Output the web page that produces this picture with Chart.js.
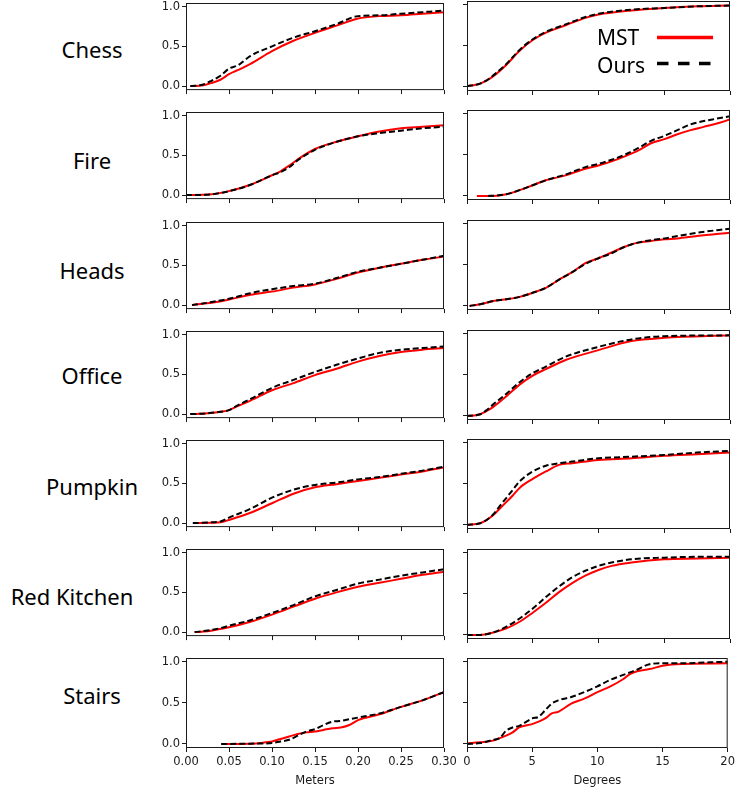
<!DOCTYPE html>
<html>
<head>
<meta charset="utf-8">
<script src="https://cdn.jsdelivr.net/npm/chart.js@4.4.0/dist/chart.umd.min.js"></script>
<style>
  body { margin: 0; width: 738px; height: 788px; background: #fff; position: relative; overflow: hidden; }
  canvas { position: absolute; }
  .rowname { position: absolute; font-family: "Noto Sans", sans-serif; font-size: 22px; color: #000;
             white-space: nowrap; line-height: normal; transform: translate(-50%, -50%); }
</style>
</head>
<body>
<script>
const rowNames = ['Chess', 'Fire', 'Heads', 'Office', 'Pumpkin', 'Red Kitchen', 'Stairs'];
const seriesNames = ['MST', 'Ours'];
const axisTitles = ['Meters', 'Degrees'];
const meterTicks = [0, 0.05, 0.1, 0.15, 0.2, 0.25, 0.3];
const degreeTicks = [0, 5, 10, 15, 20];
const fractionTicks = [0, 0.5, 1];

// translation error (meters), one list per scene
const meterX = [
  [0.005, 0.02, 0.03, 0.04, 0.05, 0.06, 0.075, 0.1, 0.125, 0.15, 0.175, 0.2, 0.225, 0.25, 0.275, 0.3],
  [0, 0.03, 0.05, 0.075, 0.1, 0.11, 0.12, 0.13, 0.15, 0.175, 0.2, 0.225, 0.25, 0.275, 0.3],
  [0.007, 0.02, 0.03, 0.05, 0.075, 0.1, 0.125, 0.15, 0.175, 0.2, 0.225, 0.25, 0.275, 0.3],
  [0.005, 0.025, 0.04, 0.05, 0.06, 0.075, 0.1, 0.125, 0.15, 0.175, 0.2, 0.225, 0.25, 0.275, 0.3],
  [0.008, 0.03, 0.04, 0.05, 0.075, 0.1, 0.125, 0.15, 0.175, 0.2, 0.225, 0.25, 0.275, 0.3],
  [0.01, 0.025, 0.04, 0.05, 0.075, 0.1, 0.125, 0.15, 0.175, 0.2, 0.225, 0.25, 0.275, 0.3],
  [0.041, 0.05, 0.075, 0.09, 0.1, 0.11, 0.12, 0.13, 0.14, 0.15, 0.16, 0.17, 0.18, 0.19, 0.2, 0.225, 0.25, 0.275, 0.3]
];
const meterMST = [
  [0, 0.01, 0.04, 0.08, 0.15, 0.20, 0.28, 0.44, 0.57, 0.67, 0.76, 0.85, 0.88, 0.89, 0.91, 0.93],
  [0, 0.01, 0.05, 0.13, 0.25, 0.30, 0.37, 0.45, 0.58, 0.67, 0.74, 0.80, 0.84, 0.86, 0.88],
  [0, 0.02, 0.03, 0.07, 0.13, 0.17, 0.22, 0.26, 0.33, 0.41, 0.47, 0.52, 0.57, 0.61],
  [0, 0.01, 0.03, 0.05, 0.10, 0.17, 0.30, 0.39, 0.49, 0.57, 0.66, 0.73, 0.78, 0.81, 0.83],
  [0, 0.005, 0.01, 0.04, 0.13, 0.25, 0.37, 0.45, 0.49, 0.53, 0.57, 0.61, 0.65, 0.70],
  [0, 0.01, 0.04, 0.06, 0.13, 0.22, 0.32, 0.42, 0.50, 0.57, 0.62, 0.67, 0.72, 0.76],
  [0, 0, 0.003, 0.015, 0.03, 0.06, 0.09, 0.12, 0.14, 0.15, 0.17, 0.19, 0.20, 0.23, 0.29, 0.36, 0.45, 0.53, 0.63]
];
const meterOurs = [
  [0, 0.02, 0.07, 0.13, 0.22, 0.26, 0.38, 0.50, 0.61, 0.69, 0.78, 0.88, 0.89, 0.91, 0.93, 0.95],
  [0, 0.01, 0.05, 0.13, 0.25, 0.29, 0.35, 0.44, 0.57, 0.67, 0.74, 0.78, 0.81, 0.84, 0.86],
  [0, 0.02, 0.04, 0.08, 0.15, 0.20, 0.24, 0.27, 0.34, 0.42, 0.47, 0.52, 0.57, 0.62],
  [0, 0.01, 0.03, 0.05, 0.11, 0.19, 0.33, 0.43, 0.53, 0.62, 0.70, 0.77, 0.81, 0.83, 0.85],
  [0, 0.01, 0.02, 0.07, 0.18, 0.32, 0.42, 0.48, 0.51, 0.55, 0.58, 0.62, 0.66, 0.71],
  [0, 0.02, 0.05, 0.08, 0.15, 0.24, 0.34, 0.45, 0.53, 0.61, 0.66, 0.71, 0.75, 0.79],
  [0, 0, 0.003, 0.005, 0.01, 0.03, 0.05, 0.10, 0.15, 0.18, 0.23, 0.27, 0.28, 0.30, 0.32, 0.37, 0.45, 0.53, 0.63]
];

// rotation error (degrees), one list per scene
const degreeX = [
  [0, 0.5, 1, 1.5, 2, 3, 4, 5, 6, 7.5, 9, 10, 12.5, 15, 17.5, 20],
  [0.75, 1.6, 2, 3, 4, 5, 6, 7.5, 9, 10, 11, 12, 13, 14, 15, 16, 17, 18, 19, 20],
  [0.2, 1, 2, 3, 4, 5, 6, 7, 8, 9, 10, 11, 12, 13, 14, 15, 16, 17.5, 20],
  [0, 0.5, 1, 1.5, 2, 3, 4, 5, 6, 7.5, 10, 12.5, 15, 20],
  [0, 1, 1.5, 2, 2.5, 3, 3.5, 4, 5, 6, 7, 8, 10, 12.5, 15, 17.5, 20],
  [0, 1, 2, 3, 4, 5, 6, 7, 8, 9, 10, 11, 12.5, 15, 17.5, 20],
  [0, 1, 2, 2.5, 3, 3.5, 4, 5, 5.5, 6, 6.5, 7, 8, 9, 10, 11, 12, 12.5, 13, 14, 15, 16, 20]
];
const degreeMST = [
  [0.01, 0.02, 0.04, 0.08, 0.13, 0.27, 0.44, 0.57, 0.66, 0.75, 0.84, 0.88, 0.93, 0.96, 0.98, 0.99],
  [0, 0, 0, 0.02, 0.07, 0.13, 0.19, 0.25, 0.33, 0.37, 0.42, 0.48, 0.55, 0.64, 0.69, 0.75, 0.80, 0.84, 0.88, 0.93],
  [0, 0.02, 0.06, 0.08, 0.11, 0.16, 0.22, 0.32, 0.41, 0.52, 0.58, 0.65, 0.72, 0.77, 0.79, 0.81, 0.82, 0.85, 0.89],
  [0, 0.005, 0.02, 0.06, 0.11, 0.24, 0.38, 0.49, 0.57, 0.68, 0.80, 0.91, 0.95, 0.98],
  [0, 0.02, 0.06, 0.12, 0.20, 0.28, 0.36, 0.45, 0.56, 0.65, 0.73, 0.75, 0.79, 0.81, 0.84, 0.86, 0.88],
  [0, 0, 0.03, 0.08, 0.16, 0.27, 0.39, 0.52, 0.63, 0.72, 0.79, 0.84, 0.88, 0.92, 0.93, 0.94],
  [0.005, 0.02, 0.04, 0.07, 0.10, 0.14, 0.20, 0.24, 0.27, 0.31, 0.37, 0.39, 0.49, 0.55, 0.63, 0.70, 0.79, 0.85, 0.88, 0.91, 0.95, 0.97, 0.98]
];
const degreeOurs = [
  [0.01, 0.02, 0.04, 0.08, 0.14, 0.28, 0.45, 0.58, 0.67, 0.76, 0.85, 0.89, 0.94, 0.96, 0.98, 0.99],
  [null, 0, 0.003, 0.02, 0.07, 0.13, 0.19, 0.26, 0.35, 0.39, 0.44, 0.50, 0.58, 0.67, 0.73, 0.80, 0.87, 0.91, 0.94, 0.97],
  [0, 0.02, 0.06, 0.08, 0.11, 0.16, 0.22, 0.32, 0.41, 0.51, 0.58, 0.64, 0.72, 0.77, 0.80, 0.82, 0.85, 0.89, 0.94],
  [0, 0.005, 0.02, 0.07, 0.14, 0.27, 0.41, 0.52, 0.60, 0.72, 0.84, 0.93, 0.97, 0.98],
  [0, 0.02, 0.06, 0.13, 0.23, 0.33, 0.43, 0.53, 0.65, 0.72, 0.75, 0.77, 0.81, 0.83, 0.85, 0.88, 0.90],
  [0, 0, 0.03, 0.10, 0.20, 0.32, 0.46, 0.59, 0.70, 0.78, 0.84, 0.88, 0.92, 0.94, 0.95, 0.95],
  [0, 0.01, 0.05, 0.07, 0.16, 0.20, 0.22, 0.31, 0.33, 0.41, 0.49, 0.53, 0.57, 0.63, 0.70, 0.78, 0.84, 0.87, 0.90, 0.97, 0.98, 0.98, 1.0]
];

// layout of the two columns of panels
const columns = [
  { x0: 186, w: 258, yW: 36, padR: 20, top0: 7, step: 109.17, ticks: meterTicks, max: 0.3,
    xs: meterX, mst: meterMST, ours: meterOurs, fmt: v => v.toFixed(2) },
  { x0: 467, w: 263, yW: 10, padR: 8, top0: 4.5, step: 109.6, ticks: degreeTicks, max: 20,
    xs: degreeX, mst: degreeMST, ours: degreeOurs, fmt: v => String(v) }
];
const labelY = [49, 160, 270, 375, 486, 596, 695];
const PLOT_H = 90, Y_MIN = -0.05, Y_MAX = 1.045, PAD_T = 10;
const tickFont = { family: 'DejaVu Sans', size: 11.5 };
const ink = '#1a1a1a';

const boxPlugin = {
  id: 'box',
  afterDraw(chart) {
    const { ctx, chartArea: a } = chart;
    ctx.save();
    ctx.strokeStyle = ink;
    ctx.lineWidth = 1;
    ctx.strokeRect(a.left + 0.5, a.top + 0.5, a.right - a.left - 1, a.bottom - a.top - 1);
    ctx.restore();
  }
};

const legendPlugin = {
  id: 'cornerLegend',
  afterDraw(chart) {
    const { ctx, chartArea: a } = chart;
    ctx.save();
    ctx.font = '21px "Noto Sans"';
    ctx.fillStyle = '#000';
    ctx.textBaseline = 'alphabetic';
    ctx.fillText(seriesNames[0], a.left + 130, a.top + 44);
    ctx.fillText(seriesNames[1], a.left + 130, a.top + 72);
    ctx.lineWidth = 3.5;
    ctx.strokeStyle = '#ff0000';
    ctx.beginPath(); ctx.moveTo(a.left + 190, a.top + 36.5); ctx.lineTo(a.left + 246, a.top + 36.5); ctx.stroke();
    ctx.strokeStyle = '#000';
    ctx.setLineDash([11.5, 9.5]);
    ctx.beginPath(); ctx.moveTo(a.left + 190, a.top + 62.5); ctx.lineTo(a.left + 246, a.top + 62.5); ctx.stroke();
    ctx.restore();
  }
};

const pts = (xs, ys) => xs.map((x, i) => ({ x: x, y: ys[i] })).filter(p => p.y !== null);

function makePanel(ci, row) {
  const c = columns[ci];
  const last = row === rowNames.length - 1;
  const chartTop = Math.round(c.top0 + row * c.step - (Y_MAX - 1) / (Y_MAX - Y_MIN) * PLOT_H);
  const xH = last ? 40 : 6;
  const canvas = document.createElement('canvas');
  canvas.width = c.yW + c.w + c.padR;
  canvas.height = PAD_T + PLOT_H + xH;
  canvas.style.left = (c.x0 - c.yW) + 'px';
  canvas.style.top = (chartTop - PAD_T) + 'px';
  document.body.appendChild(canvas);

  const plugins = [boxPlugin];
  if (ci === 1 && row === 0) plugins.push(legendPlugin);

  new Chart(canvas.getContext('2d'), {
    type: 'line',
    data: {
      datasets: [
        { label: seriesNames[1], data: pts(c.xs[row], c.ours[row]), borderColor: '#000', borderWidth: 2,
          borderDash: [6, 3], order: 0 },
        { label: seriesNames[0], data: pts(c.xs[row], c.mst[row]), borderColor: '#ff0000', borderWidth: 2,
          order: 1 }
      ]
    },
    options: {
      responsive: false,
      animation: false,
      devicePixelRatio: 1,
      layout: { padding: { top: PAD_T, right: c.padR, bottom: 0, left: 0 } },
      elements: { point: { radius: 0 }, line: { cubicInterpolationMode: 'monotone' } },
      plugins: { legend: { display: false }, tooltip: { enabled: false } },
      scales: {
        x: {
          type: 'linear', min: 0, max: c.max,
          afterBuildTicks: s => { s.ticks = c.ticks.map(v => ({ value: v })); },
          afterFit: s => { s.height = xH; },
          border: { display: false },
          grid: { drawOnChartArea: false, drawTicks: true, tickLength: 4, color: ink },
          ticks: { display: last, font: tickFont, color: ink, padding: 3, maxRotation: 0, autoSkip: false,
                   callback: v => c.fmt(v) },
          title: { display: last, text: axisTitles[ci], font: tickFont, color: ink, padding: 0 }
        },
        y: {
          type: 'linear', min: Y_MIN, max: Y_MAX,
          afterBuildTicks: s => { s.ticks = fractionTicks.map(v => ({ value: v })); },
          afterFit: s => { s.width = c.yW; },
          border: { display: false },
          grid: { drawOnChartArea: false, drawTicks: true, tickLength: 4, color: ink },
          ticks: { display: ci === 0, font: tickFont, color: ink, padding: 2, callback: v => v.toFixed(1) }
        }
      }
    },
    plugins: plugins
  });
}

for (let r = 0; r < rowNames.length; r++) {
  makePanel(0, r);
  makePanel(1, r);
  const lab = document.createElement('div');
  lab.className = 'rowname';
  lab.textContent = rowNames[r];
  lab.style.left = (rowNames[r].length > 8 ? 72 : 92) + 'px';
  lab.style.top = labelY[r] + 'px';
  document.body.appendChild(lab);
}
</script>
</body>
</html>
